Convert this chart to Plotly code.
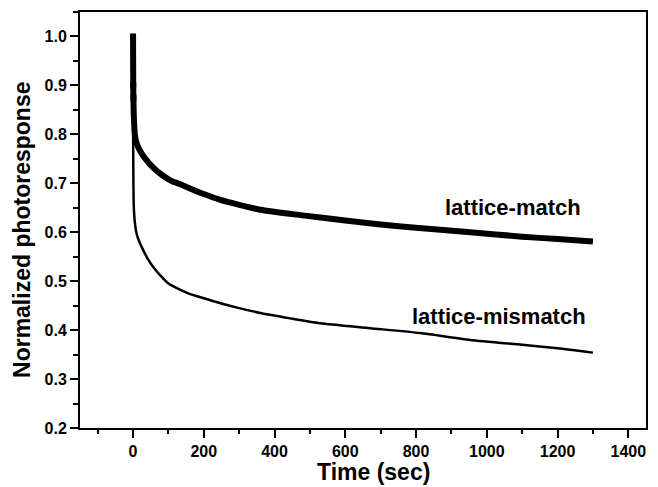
import plotly.graph_objects as go

# Data
t_match = [0, 0.5, 1, 2, 3.5, 5, 10, 20, 35, 57, 80, 108, 134, 156, 200, 247, 300, 360, 473,
           600, 700, 800, 953, 1100, 1200, 1300]
y_match = [1.0, 0.90, 0.875, 0.84, 0.815, 0.80, 0.782, 0.766, 0.75, 0.732, 0.718, 0.705, 0.698,
           0.691, 0.678, 0.666, 0.656, 0.646, 0.635, 0.624, 0.616, 0.609, 0.600, 0.591, 0.586,
           0.581]

t_mis = [0, 0.3, 1, 2, 5, 10, 18, 29, 42, 57, 78, 100, 134, 156, 200, 247, 300, 360, 444, 529,
         670, 812, 953, 1100, 1200, 1300]
y_mis = [1.0, 0.80, 0.70, 0.655, 0.62, 0.597, 0.58, 0.563, 0.545, 0.529, 0.511, 0.495, 0.482,
         0.475, 0.465, 0.455, 0.445, 0.435, 0.424, 0.414, 0.404, 0.394, 0.380, 0.370, 0.363, 0.354]

x_ticks = [0, 200, 400, 600, 800, 1000, 1200, 1400]
y_ticks = [0.2, 0.3, 0.4, 0.5, 0.6, 0.7, 0.8, 0.9, 1.0]

labels = ["lattice-match", "lattice-mismatch"]
label_x = [1074, 1035]
label_y = [0.651, 0.428]

x_title = "Time (sec)"
y_title = "Normalized photoresponse"

FONT = "Liberation Sans, Arial, sans-serif"

fig = go.Figure()
fig.add_trace(go.Scatter(x=t_mis, y=y_mis, mode="lines",
                         line=dict(color="black", width=2.5, shape="spline", smoothing=0.6),
                         showlegend=False))
fig.add_trace(go.Scatter(x=t_match, y=y_match, mode="lines",
                         line=dict(color="black", width=6, shape="spline", smoothing=0.6),
                         showlegend=False))
fig.add_trace(go.Scatter(x=t_match[:3], y=y_match[:3], mode="markers",
                         marker=dict(symbol="square", size=6, color="black"), showlegend=False))

for txt, lx, ly in zip(labels, label_x, label_y):
    fig.add_annotation(x=lx, y=ly, text=txt, showarrow=False,
                       font=dict(family=FONT, size=22, color="black", weight="bold"))

title_font = dict(family=FONT, size=23, color="black", weight="bold")
fig.add_annotation(xref="paper", yref="paper", x=0.518, y=0, yanchor="middle",
                   yshift=-44, text=x_title, showarrow=False, font=title_font)
fig.add_annotation(xref="paper", yref="paper", x=0, y=0.476, xanchor="center",
                   xshift=-58, text=y_title, textangle=-90, showarrow=False, font=title_font)

axis_common = dict(showline=True, linewidth=2, linecolor="black", mirror=True,
                   ticks="outside", tickwidth=2, ticklen=8, tickcolor="black",
                   showgrid=False, zeroline=False,
                   tickfont=dict(family=FONT, size=16, color="black", weight="bold"))

fig.update_xaxes(range=[-150, 1450], tickvals=x_ticks,
                 minor=dict(ticks="outside", ticklen=4, tickwidth=1.5, dtick=100, tick0=0,
                            tickcolor="black"),
                 **axis_common)
fig.update_yaxes(range=[0.2, 1.05], tickvals=y_ticks, tickformat=".1f",
                 minor=dict(ticks="outside", ticklen=5, tickwidth=1.5, dtick=0.05, tick0=0.2,
                            tickcolor="black"),
                 **axis_common)

fig.update_layout(width=658, height=487, margin=dict(l=80, r=12, t=10, b=59),
                  plot_bgcolor="white", paper_bgcolor="white")

fig.write_html("out.html")
